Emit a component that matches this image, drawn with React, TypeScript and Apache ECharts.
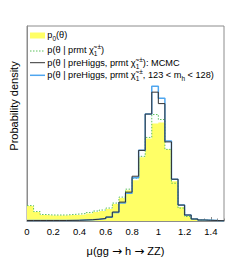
import React, { useEffect, useRef } from "react";
import * as echarts from "echarts";

// Histogram binning: 30 bins of width 0.05 on mu in [0, 1.5]
const BIN_WIDTH = 0.05;
const X_MIN = 0;
const X_MAX = 1.5;
const Y_MAX = 196; // arbitrary density units (no y labels in the reference)

// p0(theta): prior (yellow filled)
const priorDensity = [
  15, 9, 6, 5.5, 5.5, 5.5, 6, 6, 6.5, 7.5, 9, 10, 12, 17, 23, 31, 41, 64, 83, 98,
  99, 72, 40, 14, 5, 2, 1, 0.7, 0.5, 0.3,
];
// p(theta | prmt chi): green dotted
const prmtDensity = [
  15.5, 9.5, 6.5, 6, 6, 6, 6.5, 7, 7.5, 8.5, 10, 11, 13, 18, 24, 32, 43, 65, 84, 107,
  102, 72, 38, 13, 4.5, 2, 1, 0.7, 0.5, 0.3,
];
// p(theta | preHiggs, prmt chi): MCMC (dark grey)
const mcmcDensity = [
  0.5, 0.5, 0.5, 0.5, 0.5, 0.5, 0.6, 0.7, 1, 1.3, 1.8, 2.5, 4, 9, 19, 29, 45, 71, 107.5,
  129.5, 118, 79.5, 42, 16, 6, 2, 1, 0.7, 0.5, 0.3,
];
// p(theta | preHiggs, prmt chi, 123 < mh < 128): light blue
const higgsDensity = [
  0.5, 0.5, 0.5, 0.5, 0.5, 0.5, 0.6, 0.7, 1, 1.3, 1.8, 2.5, 3.7, 8.5, 18, 28, 43.5, 71,
  107.5, 135.5, 123.5, 80.5, 42, 16, 6, 2, 1, 0.7, 0.4, 0.3,
];

const FONT = '"Liberation Sans", Arial, Helvetica, sans-serif';
const ARROW_FONT = '"DejaVu Sans", sans-serif';

function stepData(h: number[]): number[][] {
  const pts = h.map((v, i) => [X_MIN + i * BIN_WIDTH, v]);
  pts.push([X_MIN + h.length * BIN_WIDTH, h[h.length - 1]]);
  return pts;
}

const legendRich = {
  sub: { fontSize: 6.5, fontFamily: FONT, verticalAlign: "bottom", lineHeight: 14, color: "#000" },
  sup: { fontSize: 6.5, fontFamily: FONT, verticalAlign: "top", lineHeight: 14, color: "#000" },
};

function legendText(text: string, y: number) {
  return {
    type: "text",
    x: 47.3,
    y,
    style: {
      text,
      fontSize: 9.2,
      fontFamily: FONT,
      fill: "#000",
      lineHeight: 14,
      verticalAlign: "middle",
      rich: legendRich,
    },
    z: 100,
  };
}

export default function App() {
  const ref = useRef<HTMLDivElement>(null);
  useEffect(() => {
    if (!ref.current) return;
    const chart = echarts.init(ref.current, undefined, { renderer: "svg" });
    const frame = "#8c8c8c";
    chart.setOption({
      animation: false,
      grid: {
        left: 24,
        top: 26,
        width: 200,
        height: 196,
        show: true,
        borderColor: frame,
        borderWidth: 1,
        backgroundColor: "transparent",
      },
      xAxis: [
        {
          type: "value",
          min: X_MIN,
          max: X_MAX,
          interval: 0.2,
          axisLine: { show: true, lineStyle: { color: frame, width: 1 } },
          axisTick: { show: true, inside: true, length: 4, lineStyle: { color: frame } },
          axisLabel: {
            fontSize: 9.5,
            color: "#000",
            fontFamily: FONT,
            margin: 5,
            showMaxLabel: false,
          },
          splitLine: { show: false },
          name: "μ(gg {arr|→} h {arr|→} ZZ)",
          nameLocation: "middle",
          nameGap: 24,
          nameTextStyle: {
            fontSize: 11,
            color: "#000",
            fontFamily: FONT,
            rich: {
              arr: { fontSize: 12, fontFamily: ARROW_FONT, color: "#000" },
            },
          },
        },
        {
          type: "value",
          min: X_MIN,
          max: X_MAX,
          interval: BIN_WIDTH,
          position: "bottom",
          axisLine: { show: false },
          axisTick: { show: true, inside: true, length: 2.5, lineStyle: { color: frame } },
          axisLabel: { show: false },
          splitLine: { show: false },
        },
      ],
      yAxis: {
        type: "value",
        min: 0,
        max: Y_MAX,
        axisLine: { show: true, lineStyle: { color: frame, width: 1 } },
        axisTick: { show: false },
        axisLabel: { show: false },
        splitLine: { show: false },
        name: "Probability density",
        nameLocation: "middle",
        nameGap: 8,
        nameTextStyle: {
          fontSize: 11,
          color: "#000",
          fontFamily: FONT,
          padding: [0, 0, 0, 35],
        },
      },
      series: [
        {
          name: "prior",
          type: "line",
          step: "end",
          data: stepData(priorDensity),
          symbol: "none",
          lineStyle: { width: 0, color: "#ffff66" },
          areaStyle: { color: "#ffff66", opacity: 1 },
          z: 1,
        },
        {
          name: "prmt",
          type: "line",
          step: "end",
          data: stepData(prmtDensity),
          symbol: "none",
          lineStyle: { width: 1, color: "#5cc05c", type: [1.5, 1.5] },
          z: 2,
        },
        {
          name: "higgs",
          type: "line",
          step: "end",
          data: stepData(higgsDensity),
          symbol: "none",
          lineStyle: { width: 1.5, color: "#4fa6ef" },
          z: 3,
        },
        {
          name: "mcmc",
          type: "line",
          step: "end",
          data: stepData(mcmcDensity),
          symbol: "none",
          lineStyle: { width: 1, color: "#333333" },
          z: 4,
        },
      ],
      graphic: [
        {
          type: "rect",
          shape: { x: 30, y: 32.5, width: 15, height: 6 },
          style: { fill: "#ffff66" },
          z: 100,
        },
        {
          type: "line",
          shape: { x1: 30, y1: 51, x2: 45, y2: 51 },
          style: { stroke: "#5cc05c", lineWidth: 1, lineDash: [1.5, 1.5] },
          z: 100,
        },
        {
          type: "line",
          shape: { x1: 30, y1: 62.7, x2: 45, y2: 62.7 },
          style: { stroke: "#333333", lineWidth: 1 },
          z: 100,
        },
        {
          type: "line",
          shape: { x1: 30, y1: 75.3, x2: 45, y2: 75.3 },
          style: { stroke: "#4fa6ef", lineWidth: 1.5 },
          z: 100,
        },
        legendText("p{sub|0}(θ)", 34.5),
        legendText("p(θ | prmt χ\u0303{sub|1}{sup|±})", 49.5),
        legendText("p(θ | preHiggs, prmt χ\u0303{sub|1}{sup|±}): MCMC", 62.5),
        legendText("p(θ | preHiggs, prmt χ\u0303{sub|1}{sup|±}, 123 < m{sub|h} < 128)", 75.3),
      ],
    });
    return () => chart.dispose();
  }, []);
  return (
    <div
      ref={ref}
      style={{ position: "absolute", left: 0, top: 0, width: 249, height: 262 }}
    />
  );
}
